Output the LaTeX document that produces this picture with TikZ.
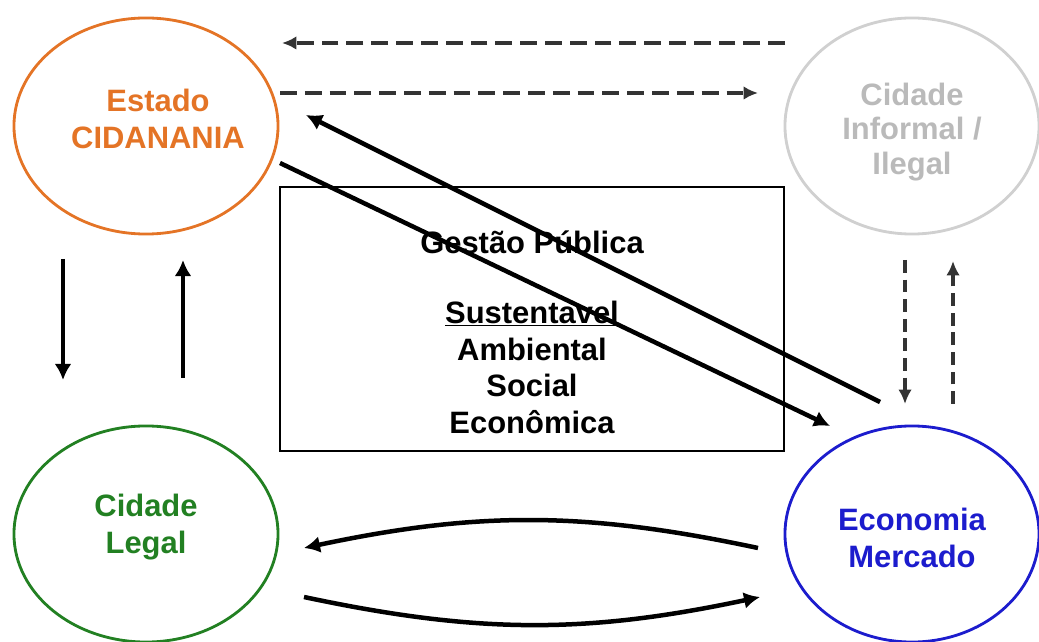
\documentclass[tikz,border=0pt]{standalone}
\usepackage{fontspec}
\setmainfont{Liberation Sans}
\usepackage{tikz}
\usetikzlibrary{shapes.geometric}
\usetikzlibrary{arrows.meta}

\definecolor{laranja}{RGB}{228,116,38}
\definecolor{cinza}{RGB}{208,208,208}
\definecolor{cinzatexto}{RGB}{186,186,186}
\definecolor{verde}{RGB}{34,128,34}
\definecolor{azul}{RGB}{28,28,205}

\tikzset{
  ator/.style={ellipse, draw, line width=2pt, minimum width=6.6cm, minimum height=5.4cm},
  rotulo/.style={align=center, font=\fontsize{22}{26}\selectfont\bfseries},
  fluxo/.style={line width=3.2pt, -{Latex[length=0.4cm,width=0.42cm]}},
  fluxotrac/.style={line width=2.3pt, draw=black!80, dash pattern=on 0.42cm off 0.2cm,
    -{Latex[length=0.36cm,width=0.34cm]}},
  fluxovert/.style={fluxotrac, dash pattern=on 0.32cm off 0.17cm},
}

\begin{document}
\begin{tikzpicture}[x=0.025cm, y=-0.025cm]
  \useasboundingbox (0,0) rectangle (1039,642);

  % os quatro atores
  \node [ator, draw=laranja] (estado) at (146,126) {};
  \node [rotulo, text=laranja] (estadotxt) at (158,119) {Estado\\CIDANANIA};
  \node [ator, draw=cinza, minimum width=6.35cm] (informal) at (912,126) {};
  \node [rotulo, text=cinzatexto, font=\fontsize{22}{24.5}\selectfont\bfseries] (informaltxt)
    at (912,132) {Cidade\\Informal /\\Ilegal};
  \node [ator, draw=verde] (legal) at (146,534) {};
  \node [rotulo, text=verde] (legaltxt) at (146,527) {Cidade\\Legal};
  \node [ator, draw=azul, minimum width=6.35cm] (mercado) at (912,534) {};
  \node [rotulo, text=azul] (mercadotxt) at (912,538) {Economia\\Mercado};

  % caixa central
  \node [draw, line width=2pt, minimum width=12.6cm, minimum height=6.6cm] (gestao) at (532,319) {};
  \node [rotulo] (gestaotxt) at (532,332)
    {Gest\~ao P\'ublica\\[24pt]\underline{Sustentavel}\\Ambiental\\Social\\Econ\^omica};

  % extremidades das setas
  \coordinate (t1a) at (785,43);  \coordinate (t1b) at (282,43);
  \coordinate (t2a) at (280,93);  \coordinate (t2b) at (758,93);
  \coordinate (d1a) at (880,402); \coordinate (d1b) at (306,115);
  \coordinate (d2a) at (280,163); \coordinate (d2b) at (830,426);
  \coordinate (v1a) at (63,259);  \coordinate (v1b) at (63,380);
  \coordinate (v2a) at (183,378); \coordinate (v2b) at (183,260);
  \coordinate (v3a) at (905,260); \coordinate (v3b) at (905,404);
  \coordinate (v4a) at (953,404); \coordinate (v4b) at (953,261);
  \coordinate (b1a) at (758,548); \coordinate (b1b) at (304,548);
  \coordinate (b2a) at (304,597); \coordinate (b2b) at (760,597);

  \draw [fluxotrac] (t1a) -- (t1b);
  \draw [fluxotrac] (t2a) -- (t2b);
  \draw [fluxo] (d1a) -- (d1b);
  \draw [fluxo] (d2a) -- (d2b);
  \draw [fluxo] (v1a) -- (v1b);
  \draw [fluxo] (v2a) -- (v2b);
  \draw [fluxovert] (v3a) -- (v3b);
  \draw [fluxovert] (v4a) -- (v4b);
  \draw [fluxo] (b1a) to [bend right=12] (b1b);
  \draw [fluxo] (b2a) to [bend right=12] (b2b);
\end{tikzpicture}
\end{document}
